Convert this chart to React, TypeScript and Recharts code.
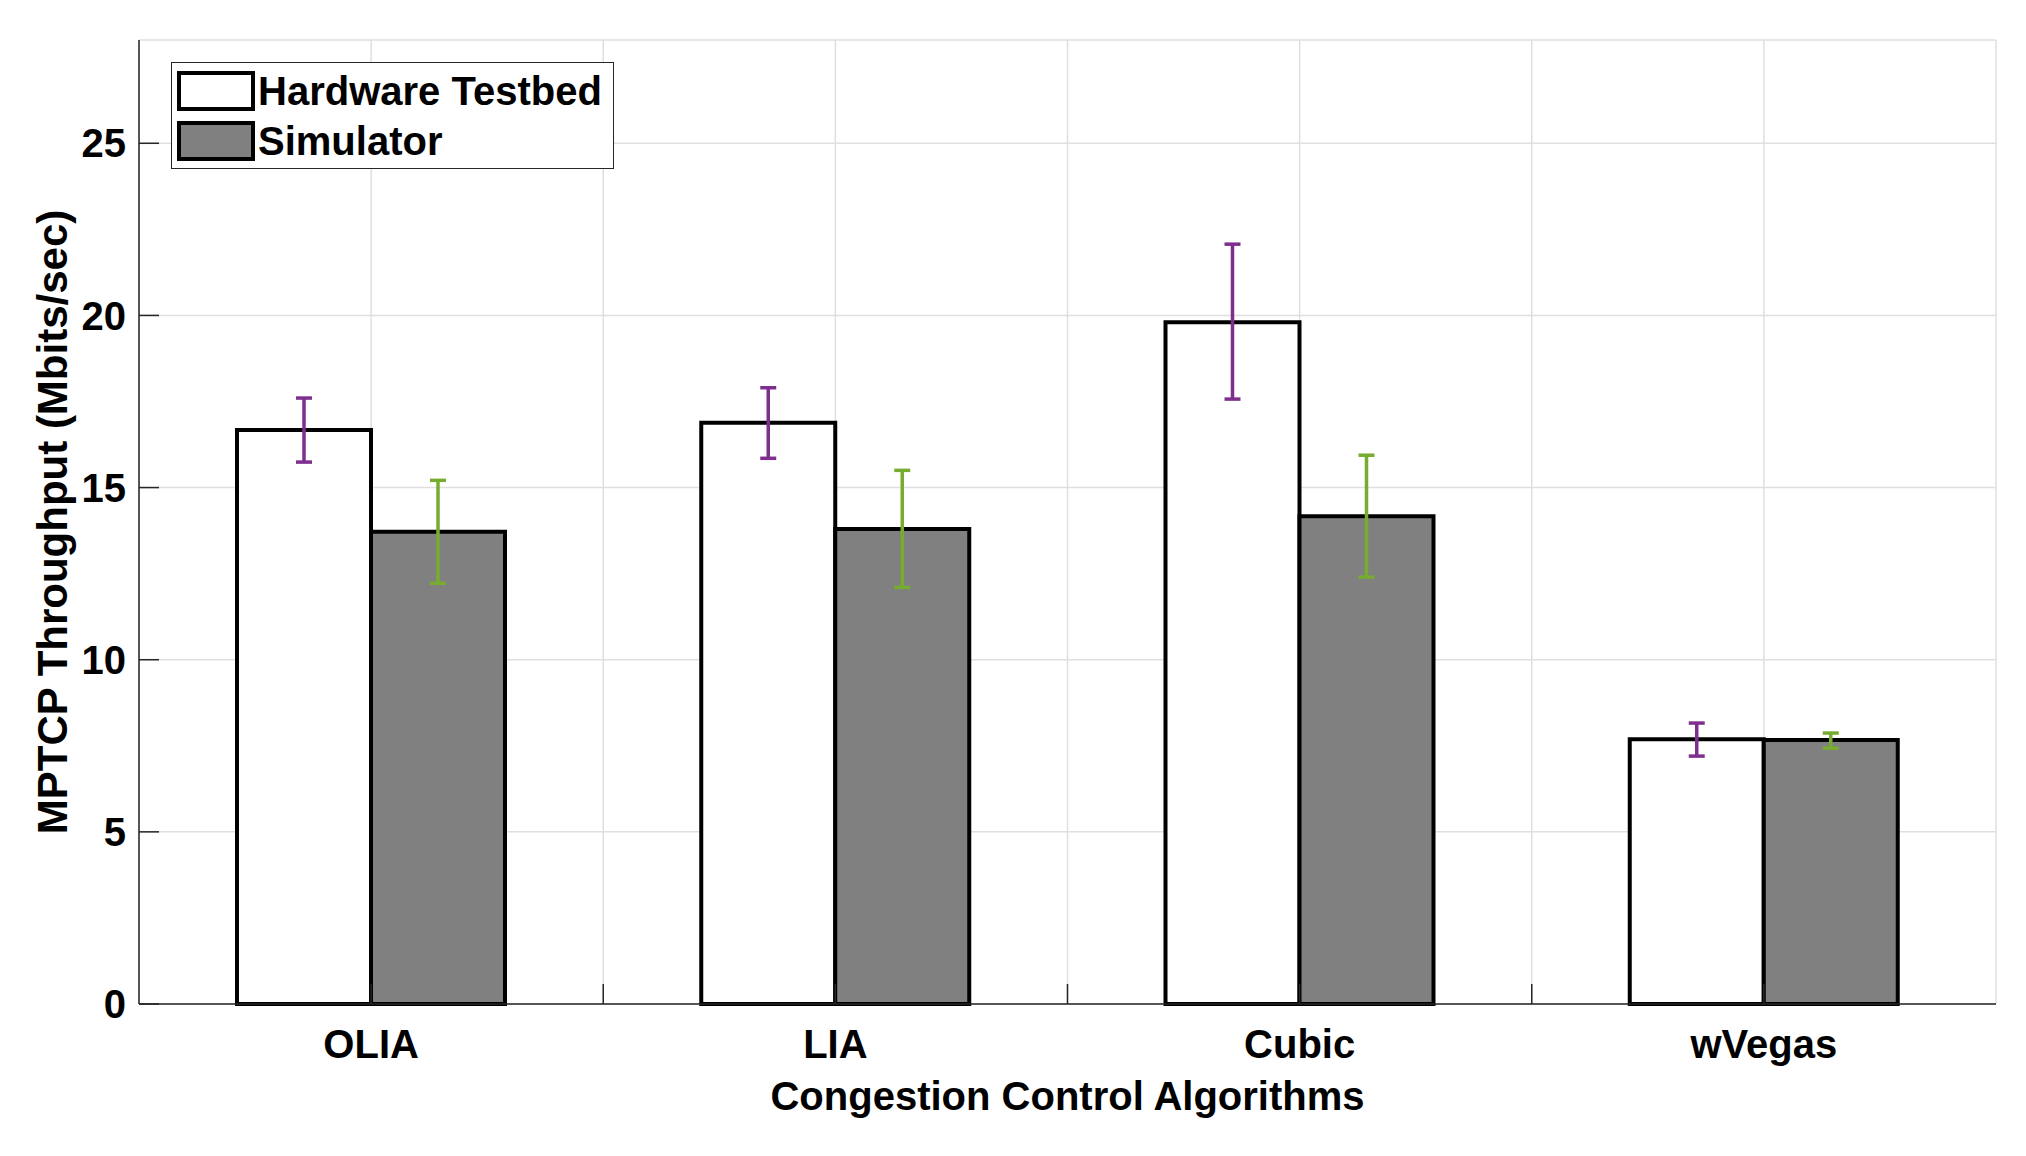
import React from 'react';
import { BarChart, Bar, XAxis, YAxis, CartesianGrid, ErrorBar } from 'recharts';

const categories = ['OLIA', 'LIA', 'Cubic', 'wVegas'];
const seriesNames = ['Hardware Testbed', 'Simulator'];

const hardware = [16.67, 16.88, 19.8, 7.69];
const hardwareUpper = [17.6, 17.9, 22.07, 8.16];
const hardwareLower = [15.74, 15.85, 17.57, 7.2];

const simulator = [13.72, 13.8, 14.17, 7.67];
const simulatorUpper = [15.21, 15.5, 15.94, 7.87];
const simulatorLower = [12.22, 12.1, 12.4, 7.43];

const yTicks = [0, 5, 10, 15, 20, 25];
const xTicks = [1, 1.5, 2, 2.5, 3, 3.5, 4];

const FONT = '"Liberation Sans", Arial, Helvetica, sans-serif';
const AXIS = '#262626';

const data = categories.map((name, i) => ({
  name,
  pos: i + 1,
  hw: hardware[i],
  hwErr: [hardware[i] - hardwareLower[i], hardwareUpper[i] - hardware[i]],
  sim: simulator[i],
  simErr: [simulator[i] - simulatorLower[i], simulatorUpper[i] - simulator[i]],
}));

const tickStyle = { fontSize: 40, fontWeight: 'bold', fill: '#000', fontFamily: FONT };

function YTitle(props: any) {
  const { viewBox } = props;
  const x = viewBox.x + 12;
  const y = viewBox.y + viewBox.height / 2;
  return (
    <text
      x={x}
      y={y}
      transform={`rotate(-90 ${x} ${y})`}
      textAnchor="middle"
      dominantBaseline="central"
      style={{ fontSize: 42, fontWeight: 'bold', fontFamily: FONT }}
      fill="#000"
    >
      MPTCP Throughput (Mbits/sec)
    </text>
  );
}

function XTitle(props: any) {
  const { viewBox } = props;
  return (
    <text
      x={viewBox.x + viewBox.width / 2}
      y={viewBox.y + 106}
      textAnchor="middle"
      style={{ fontSize: 40, fontWeight: 'bold', fontFamily: FONT }}
      fill="#000"
    >
      Congestion Control Algorithms
    </text>
  );
}

function LegendBox() {
  const swatch = (fill: string) => ({
    width: 78,
    height: 40,
    boxSizing: 'border-box' as const,
    border: '4px solid #000',
    background: fill,
    marginRight: 3,
  });
  const row = { display: 'flex', alignItems: 'center', height: 40, marginBottom: 10 };
  return (
    <div
      style={{
        position: 'absolute',
        left: 171,
        top: 62,
        width: 443,
        height: 107,
        boxSizing: 'border-box',
        border: `1.5px solid ${AXIS}`,
        background: '#fff',
        padding: '8px 0 0 5px',
        fontFamily: FONT,
        fontWeight: 'bold',
        fontSize: 40,
        color: '#000',
        whiteSpace: 'nowrap',
      }}
    >
      <div style={row}>
        <div style={swatch('#fff')} />
        <span>{seriesNames[0]}</span>
      </div>
      <div style={row}>
        <div style={swatch('#808080')} />
        <span>{seriesNames[1]}</span>
      </div>
    </div>
  );
}

export default function App() {
  return (
    <div style={{ position: 'absolute', left: 0, top: 0, width: 2026, height: 1156, background: '#fff' }}>
      <BarChart
        width={2026}
        height={1156}
        data={data}
        margin={{ top: 40, right: 30, left: 40, bottom: 92 }}
        barGap={0}
        barSize={134}
      >
        <CartesianGrid xAxisId="num" yAxisId="left" stroke="#dfdfdf" strokeWidth={1.5} />
        <XAxis xAxisId="cat" dataKey="name" type="category" hide height={0} />
        <XAxis
          xAxisId="num"
          dataKey="pos"
          type="number"
          domain={[0.5, 4.5]}
          ticks={xTicks}
          interval={0}
          allowDataOverflow
          height={60}
          tickSize={-20}
          tickMargin={46}
          tickFormatter={(v: number) => (Number.isInteger(v) ? categories[v - 1] : '')}
          tick={tickStyle}
          tickLine={{ stroke: AXIS, strokeWidth: 1.5 }}
          axisLine={{ stroke: AXIS, strokeWidth: 1.5 }}
          label={<XTitle />}
        />
        <XAxis
          xAxisId="top"
          dataKey="pos"
          orientation="top"
          type="number"
          domain={[0.5, 4.5]}
          ticks={xTicks}
          interval={0}
          allowDataOverflow
          height={0}
          tickSize={-20}
          tick={false}
          tickLine={{ stroke: AXIS, strokeWidth: 1.5 }}
          axisLine={{ stroke: AXIS, strokeWidth: 1.5 }}
        />
        <YAxis
          yAxisId="left"
          domain={[0, 28]}
          ticks={yTicks}
          interval={0}
          width={99}
          tickSize={-20}
          tickMargin={33}
          tick={tickStyle}
          tickLine={{ stroke: AXIS, strokeWidth: 1.5 }}
          axisLine={{ stroke: AXIS, strokeWidth: 1.5 }}
          label={<YTitle />}
        />
        <YAxis
          yAxisId="right"
          orientation="right"
          domain={[0, 28]}
          ticks={yTicks}
          interval={0}
          width={0}
          tickSize={-20}
          tick={false}
          tickLine={{ stroke: AXIS, strokeWidth: 1.5 }}
          axisLine={{ stroke: AXIS, strokeWidth: 1.5 }}
        />
        <Bar xAxisId="cat" yAxisId="left" dataKey="hw" name={seriesNames[0]} fill="#fff" stroke="#000" strokeWidth={4} isAnimationActive={false}>
          <ErrorBar dataKey="hwErr" width={8} stroke="#7E2F8E" strokeWidth={3.5} isAnimationActive={false} />
        </Bar>
        <Bar xAxisId="cat" yAxisId="left" dataKey="sim" name={seriesNames[1]} fill="#808080" stroke="#000" strokeWidth={4} isAnimationActive={false}>
          <ErrorBar dataKey="simErr" width={8} stroke="#77AC30" strokeWidth={3.5} isAnimationActive={false} />
        </Bar>
      </BarChart>
      <LegendBox />
    </div>
  );
}
